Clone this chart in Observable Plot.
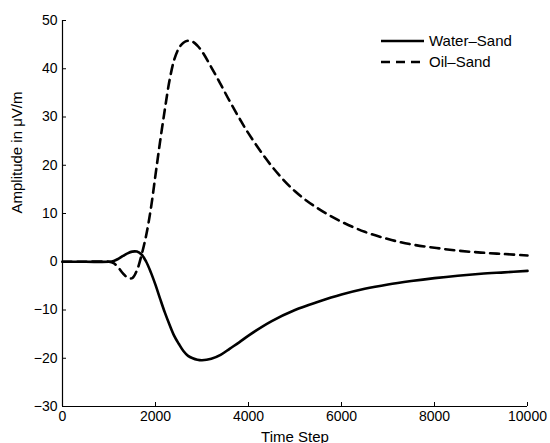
<!DOCTYPE html>
<html><head><meta charset="utf-8">
<script src="https://cdn.jsdelivr.net/npm/d3@7"></script>
<script src="https://cdn.jsdelivr.net/npm/@observablehq/plot@0.6"></script>
<style>
body{margin:0;background:#fff}
#wrap{position:relative;width:550px;height:443px}
#legend{position:absolute;left:0;top:0;pointer-events:none}
</style>
</head><body><div id="wrap"></div>
<script>
const timeSteps = [0,500,1000,1100,1200,1300,1400,1500,1600,1700,1800,1900,2000,2100,2200,2300,2400,2500,2600,2700,2800,2900,3000,3200,3400,3600,3800,4000,4500,5000,5500,6000,6500,7000,7500,8000,8500,9000,9500,10000];
const waterSand = [0,0,0,0.15,0.6,1.2,1.75,2.1,2.1,1.5,0,-2.2,-4.8,-7.7,-10.5,-13,-15.3,-17,-18.5,-19.5,-20.0,-20.3,-20.4,-20.1,-19.3,-18,-16.7,-15.3,-12.3,-10,-8.3,-6.8,-5.6,-4.7,-4,-3.4,-2.9,-2.5,-2.2,-1.9];
const oilSand = [0,0,0,-0.3,-1.2,-2.4,-3.3,-3.4,-1.8,1.4,5.5,11,18,25,31.5,37.5,41.8,44.2,45.4,45.8,45.6,44.8,43.6,40.3,36.8,33.2,29.8,26.6,19.8,14.6,11,8.3,6.2,4.7,3.6,2.9,2.3,1.9,1.6,1.3];
const seriesNames = ["Water\u2013Sand", "Oil\u2013Sand"];
const xTicks = [0,2000,4000,6000,8000,10000];
const yTicks = [-30,-20,-10,0,10,20,30,40,50];
const xLabel = "Time Step";
const yLabel = "Amplitude in \u03bcV/m";

const water = timeSteps.map((t,i)=>({t, v: waterSand[i]}));
const oil = timeSteps.map((t,i)=>({t, v: oilSand[i]}));

const W = 550, H = 443, mL = 62, mR = 23, mT = 20, mB = 37, tick = 4;
const chart = Plot.plot({
  width: W, height: H,
  marginLeft: mL, marginRight: mR, marginTop: mT, marginBottom: mB,
  style: {fontFamily: "'Liberation Sans', Arial, sans-serif", fontSize: "14px", background: "#fff", color: "#000"},
  x: {domain: [0, 10000]},
  y: {domain: [-30, 50]},
  marks: [
    Plot.axisX({ticks: xTicks, tickSize: 0, tickPadding: 5, tickFormat: "d", label: null}),
    Plot.axisY({ticks: yTicks, tickSize: 0, tickPadding: 5, label: null}),
    Plot.tickX(xTicks, {stroke: "#000", strokeWidth: 1, insetTop: (H - mT - mB) - tick}),
    Plot.tickY(yTicks, {stroke: "#000", strokeWidth: 1, insetRight: (W - mL - mR) - tick}),
    Plot.ruleX([0], {stroke: "#000", strokeWidth: 1.2}),
    Plot.ruleY([-30], {stroke: "#000", strokeWidth: 1.2}),
    Plot.line(oil, {x: "t", y: "v", stroke: "#000", strokeWidth: 2.6, strokeDasharray: "9,6", curve: "catmull-rom"}),
    Plot.line(water, {x: "t", y: "v", stroke: "#000", strokeWidth: 2.6, curve: "catmull-rom"}),
    Plot.text([xLabel], {frameAnchor: "bottom", dy: 35, lineAnchor: "bottom", fontSize: 15, fill: "#000"}),
    Plot.text([yLabel], {frameAnchor: "left", dx: -45, rotate: -90, lineAnchor: "middle", fontSize: 15, fill: "#000"})
  ]
});
const wrap = document.getElementById("wrap");
wrap.appendChild(chart);

// legend overlay
const ns = "http://www.w3.org/2000/svg";
const lg = document.createElementNS(ns, "svg");
lg.setAttribute("id", "legend");
lg.setAttribute("width", W); lg.setAttribute("height", H);
const dashes = [null, "9,6"];
seriesNames.forEach((name, i) => {
  const y = 41 + i * 21;
  const ln = document.createElementNS(ns, "line");
  ln.setAttribute("x1", 381); ln.setAttribute("x2", 424);
  ln.setAttribute("y1", y); ln.setAttribute("y2", y);
  ln.setAttribute("stroke", "#000"); ln.setAttribute("stroke-width", 2.6);
  if (dashes[i]) ln.setAttribute("stroke-dasharray", dashes[i]);
  lg.appendChild(ln);
  const tx = document.createElementNS(ns, "text");
  tx.setAttribute("x", 429); tx.setAttribute("y", y);
  tx.setAttribute("dy", "0.35em");
  tx.setAttribute("font-family", "'Liberation Sans', Arial, sans-serif");
  tx.setAttribute("font-size", 15);
  tx.textContent = name;
  lg.appendChild(tx);
});
wrap.appendChild(lg);
</script>
</body></html>
